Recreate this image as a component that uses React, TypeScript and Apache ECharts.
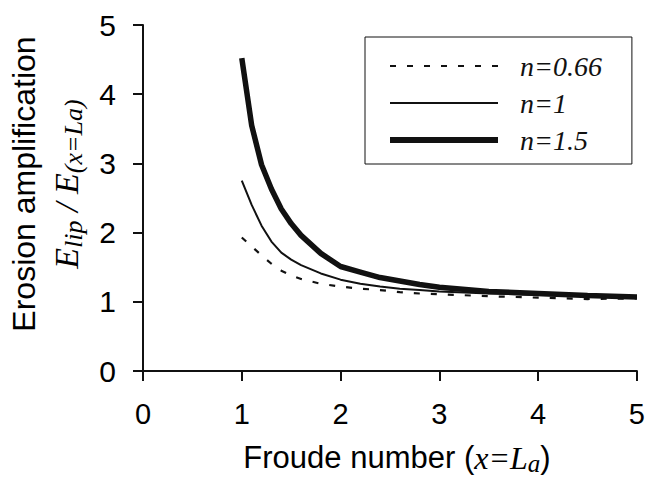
import React, { useEffect, useRef } from "react";
import * as echarts from "echarts";

const xValues = [1.0, 1.1, 1.2, 1.3, 1.4, 1.5, 1.6, 1.8, 2.0, 2.2, 2.4, 2.6, 2.8, 3.0, 3.5, 4.0, 4.5, 5.0];
const n066 = [1.93, 1.8, 1.67, 1.55, 1.45, 1.38, 1.33, 1.26, 1.22, 1.19, 1.17, 1.14, 1.12, 1.11, 1.08, 1.06, 1.04, 1.05];
const n1 = [2.75, 2.4, 2.1, 1.87, 1.71, 1.61, 1.53, 1.41, 1.32, 1.26, 1.22, 1.19, 1.17, 1.15, 1.12, 1.1, 1.08, 1.07];
const n15 = [4.52, 3.55, 2.98, 2.63, 2.34, 2.13, 1.96, 1.7, 1.51, 1.43, 1.35, 1.3, 1.25, 1.21, 1.15, 1.12, 1.09, 1.07];
const seriesNames = ["n=0.66", "n=1", "n=1.5"];
const lineWidths = [2.2, 2, 5.5];

const pair = (ys: number[]) => xValues.map((x, i) => [x, ys[i]]);

export default function App() {
  const ref = useRef<HTMLDivElement>(null);
  useEffect(() => {
    const chart = echarts.init(ref.current!, undefined, { renderer: "svg" });
    const sans = "'Liberation Sans', Arial, sans-serif";
    const serif = "'Liberation Serif', 'Times New Roman', serif";
    const ink = "#111111";
    const axisLine = { show: true, lineStyle: { color: ink, width: 2 } };
    chart.setOption({
      animation: false,
      backgroundColor: "#ffffff",
      grid: { left: 141, top: 25, right: 11, bottom: 108, containLabel: false },
      legend: {
        orient: "vertical",
        left: 365,
        top: 37,
        padding: [15, 30, 10, 22],
        borderColor: ink,
        borderWidth: 1,
        itemWidth: 108,
        itemHeight: 14,
        itemGap: 9,
        data: seriesNames.map((name, i) => ({ name, lineStyle: { width: i === 2 ? 6 : 2 } })),
        textStyle: {
          fontFamily: serif,
          fontStyle: "italic",
          fontSize: 28,
          lineHeight: 26,
          color: ink,
          padding: [0, 0, 0, 17],
        },
        itemStyle: { opacity: 0 },
      },
      xAxis: {
        type: "value",
        min: 0,
        max: 5,
        interval: 1,
        axisLine,
        axisTick: { show: true, length: 10, lineStyle: { color: ink, width: 2 } },
        splitLine: { show: false },
        axisLabel: { color: "#000", fontFamily: sans, fontSize: 29, margin: 28 },
        name: "{a|Froude number (}{i|x=L}{s|a}{a|)}",
        nameLocation: "middle",
        nameGap: 68,
        nameTextStyle: {
          padding: [0, 0, 0, 14],
          rich: {
            a: { fontFamily: sans, fontSize: 31, color: "#000" },
            i: { fontFamily: serif, fontStyle: "italic", fontSize: 32, color: "#000" },
            s: { fontFamily: serif, fontStyle: "italic", fontSize: 25, color: "#000", padding: [12, 0, 0, 0] },
          },
        },
      },
      yAxis: {
        type: "value",
        min: 0,
        max: 5,
        interval: 1,
        axisLine,
        axisTick: { show: true, length: 10, lineStyle: { color: ink, width: 2 } },
        splitLine: { show: false },
        axisLabel: { color: "#000", fontFamily: sans, fontSize: 30, margin: 27 },
        name: "{a|Erosion amplification}\n{i|E}{s|lip}{i| / E}{s|(x=La)}",
        nameLocation: "middle",
        nameRotate: 90,
        nameGap: 57,
        nameTextStyle: {
          padding: [0, 0, 0, 28],
          rich: {
            a: { fontFamily: sans, fontSize: 32, color: "#000", lineHeight: 44, align: "center" },
            i: { fontFamily: serif, fontStyle: "italic", fontSize: 34, color: "#000", lineHeight: 36 },
            s: { fontFamily: serif, fontStyle: "italic", fontSize: 26, color: "#000", padding: [14, 0, 0, 0] },
          },
        },
      },
      series: [
        {
          name: seriesNames[0],
          type: "line",
          data: pair(n066),
          symbol: "none",
          lineStyle: { color: ink, width: lineWidths[0], type: [6, 11] },
        },
        {
          name: seriesNames[1],
          type: "line",
          data: pair(n1),
          symbol: "none",
          lineStyle: { color: ink, width: lineWidths[1] },
        },
        {
          name: seriesNames[2],
          type: "line",
          data: pair(n15),
          symbol: "none",
          lineStyle: { color: ink, width: lineWidths[2] },
        },
      ],
    });
    return () => chart.dispose();
  }, []);
  return <div ref={ref} style={{ width: 648, height: 481, position: "absolute", left: 0, top: 0 }} />;
}
